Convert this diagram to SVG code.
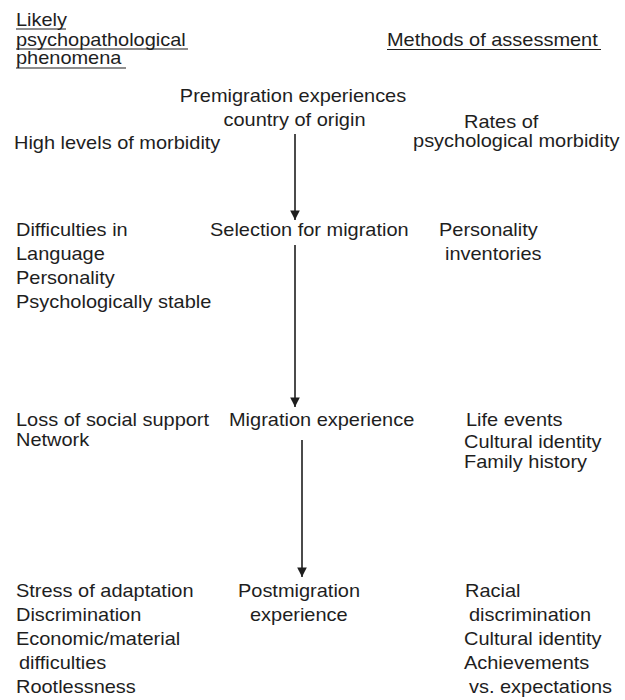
<svg xmlns="http://www.w3.org/2000/svg" width="625" height="700" viewBox="0 0 625 700">
<style>
text{font-family:"Liberation Sans",Arial,Helvetica,sans-serif;font-size:18px;fill:#1e1e1e}
.ul{stroke:#1e1e1e;stroke-width:1.2}
.conn line{stroke:#1e1e1e;stroke-width:1.6}
</style>
<defs>
<marker id="ah" viewBox="0 0 10 10" refX="10" refY="5" markerWidth="6" markerHeight="6.5" markerUnits="strokeWidth" orient="auto">
<path d="M0,0 L10,5 L0,10 z" fill="#1e1e1e"/>
</marker>
</defs>
<rect width="625" height="700" fill="#fff"/>
<g transform="scale(1.11 1)">
<g id="hdr-left">
<text x="14.4" y="26">Likely</text>
<text x="14.4" y="46">psychopathological</text>
<text x="14.4" y="64">phenomena</text>
</g>
<g id="hdr-right"><text x="348.6" y="46">Methods of assessment</text></g>
<g id="n-premigration">
<text x="264" y="102" text-anchor="middle">Premigration experiences</text>
<text x="265.3" y="126" text-anchor="middle">country of origin</text>
</g>
<g id="l-premigration"><text x="12.6" y="149">High levels of morbidity</text></g>
<g id="r-premigration">
<text x="418" y="128">Rates of</text>
<text x="372.1" y="147">psychological morbidity</text>
</g>
<g id="l-selection">
<text x="14.4" y="236">Difficulties in</text>
<text x="14.4" y="260">Language</text>
<text x="14.4" y="284">Personality</text>
<text x="14.4" y="308">Psychologically stable</text>
</g>
<g id="n-selection"><text x="189.2" y="236">Selection for migration</text></g>
<g id="r-selection">
<text x="395.5" y="236">Personality</text>
<text x="400.9" y="260">inventories</text>
</g>
<g id="l-migration">
<text x="14.4" y="426">Loss of social support</text>
<text x="14.4" y="446">Network</text>
</g>
<g id="n-migration"><text x="206.3" y="426">Migration experience</text></g>
<g id="r-migration">
<text x="419.8" y="426">Life events</text>
<text x="418" y="448">Cultural identity</text>
<text x="418" y="468">Family history</text>
</g>
<g id="l-post">
<text x="14.4" y="597">Stress of adaptation</text>
<text x="14.4" y="621">Discrimination</text>
<text x="14.4" y="645">Economic/material</text>
<text x="17.1" y="669">difficulties</text>
<text x="14.4" y="693">Rootlessness</text>
</g>
<g id="n-post">
<text x="214.4" y="597">Postmigration</text>
<text x="225.2" y="621">experience</text>
</g>
<g id="r-post">
<text x="418.9" y="597">Racial</text>
<text x="422.5" y="621">discrimination</text>
<text x="418" y="645">Cultural identity</text>
<text x="418" y="669">Achievements</text>
<text x="422.5" y="693">vs. expectations</text>
</g>
</g>
<g id="underlines">
<line class="ul" x1="16" y1="29" x2="66" y2="29"/>
<line class="ul" x1="16" y1="49" x2="188" y2="49"/>
<line class="ul" x1="16" y1="68" x2="126" y2="68"/>
<line class="ul" x1="387" y1="49.5" x2="601" y2="49.5"/>
</g>
<g class="conn" id="connectors">
<line x1="295" y1="134" x2="295" y2="220" marker-end="url(#ah)"/>
<line x1="295" y1="245" x2="295" y2="407" marker-end="url(#ah)"/>
<line x1="302" y1="440" x2="302" y2="577" marker-end="url(#ah)"/>
</g>
</svg>
